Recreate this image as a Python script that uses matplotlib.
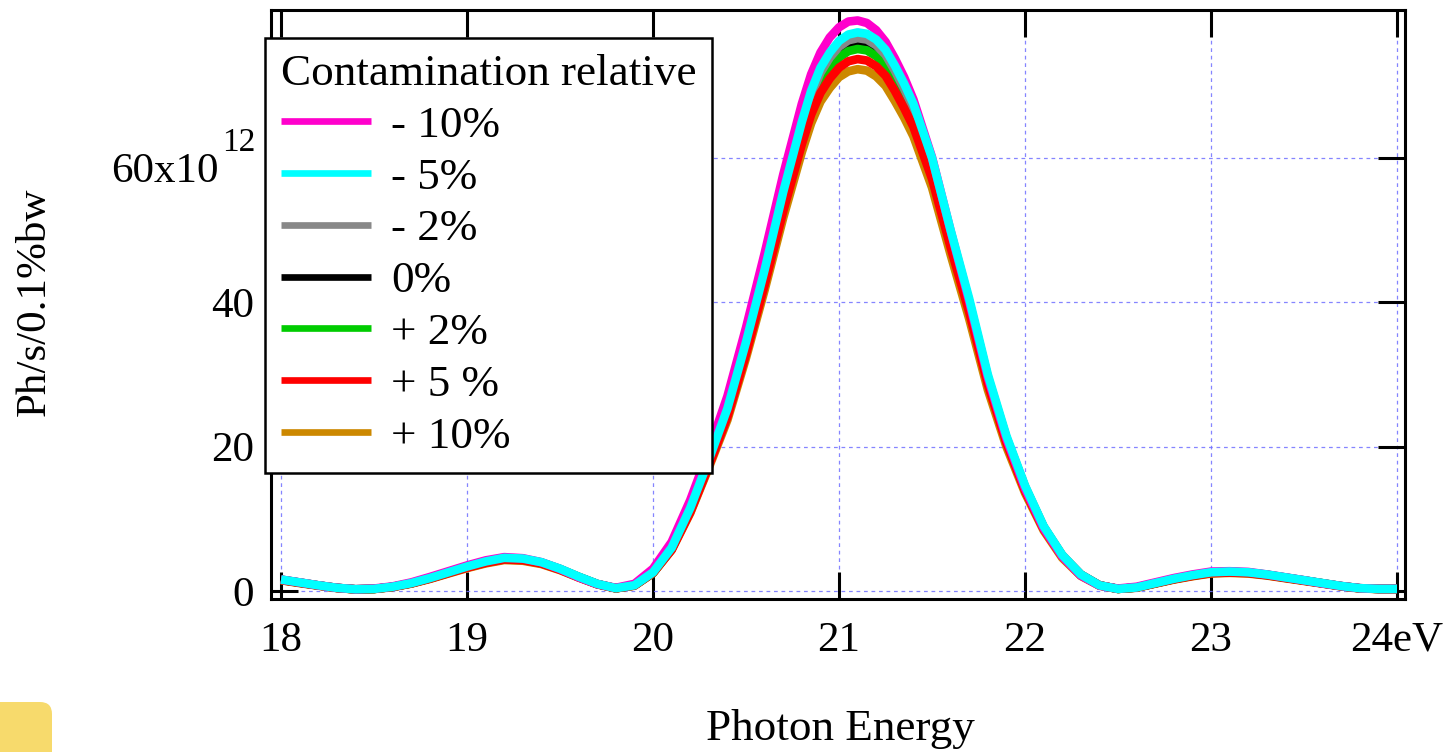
import matplotlib
matplotlib.use("Agg")
import matplotlib.pyplot as plt
from matplotlib.patches import FancyBboxPatch
from matplotlib.transforms import IdentityTransform, blended_transform_factory, offset_copy

plt.rcParams['font.family'] = ['Liberation Serif', 'DejaVu Serif']

# ---------------- data (Ph/s/0.1%bw, in units of 1e12) ----------------
energy = [18.0, 18.1, 18.2, 18.3, 18.4, 18.5, 18.6, 18.7, 18.8, 18.9,
          19.0, 19.1, 19.2, 19.3, 19.4, 19.5, 19.6, 19.7, 19.8, 19.9,
          20.0, 20.1, 20.2, 20.3, 20.4, 20.5, 20.6, 20.7, 20.8, 20.85,
          20.9, 20.95, 21.0, 21.05, 21.1, 21.15, 21.2, 21.25, 21.3, 21.35,
          21.4, 21.5, 21.6, 21.7, 21.8, 21.9, 22.0, 22.1, 22.2, 22.3,
          22.4, 22.5, 22.6, 22.7, 22.8, 22.9, 23.0, 23.1, 23.2, 23.3,
          23.4, 23.5, 23.6, 23.7, 23.8, 23.9, 24.0]

minus10 = [1.6, 1.2, 0.8, 0.45, 0.25, 0.35, 0.65, 1.2, 1.95, 2.75,
           3.55, 4.25, 4.7, 4.55, 4.0, 3.05, 1.9, 0.95, 0.45, 1.0,
           3.1, 6.8, 12.6, 19.5, 27.0, 36.5, 46.8, 57.7, 67.5, 71.6,
           74.6, 76.7, 78.1, 78.9, 79.05, 78.7, 77.7, 76.1, 73.8, 71.2,
           68.1, 60.1, 49.9, 40.1, 29.6, 21.1, 14.2, 8.7, 4.8, 2.15,
           0.75, 0.35, 0.6, 1.2, 1.8, 2.3, 2.7, 2.75, 2.65, 2.3,
           1.9, 1.5, 1.05, 0.7, 0.4, 0.3, 0.3]

minus5 = [1.6, 1.2, 0.8, 0.45, 0.25, 0.3, 0.6, 1.1, 1.8, 2.6,
          3.4, 4.1, 4.6, 4.5, 4.0, 3.1, 2.0, 1.0, 0.4, 0.8,
          2.6, 6.0, 11.5, 18.2, 25.3, 34.5, 44.5, 55.3, 65.0, 69.3,
          72.5, 74.6, 76.2, 77.1, 77.4, 77.2, 76.4, 75.0, 72.8, 70.3,
          67.5, 60.0, 50.0, 40.5, 30.0, 21.5, 14.6, 9.0, 5.0, 2.3,
          0.8, 0.3, 0.5, 1.1, 1.7, 2.2, 2.6, 2.7, 2.6, 2.3,
          1.9, 1.5, 1.1, 0.7, 0.4, 0.3, 0.3]

minus2 = [1.58, 1.19, 0.79, 0.45, 0.25, 0.3, 0.59, 1.09, 1.78, 2.57,
          3.37, 4.06, 4.55, 4.46, 3.96, 3.07, 1.98, 0.99, 0.4, 0.79,
          2.6, 5.9, 11.4, 18.0, 25.0, 34.2, 44.1, 54.7, 64.4, 68.6,
          71.8, 73.9, 75.4, 76.3, 76.6, 76.4, 75.6, 74.3, 72.1, 69.6,
          66.8, 59.4, 49.5, 40.1, 29.7, 21.3, 14.5, 8.9, 5.0, 2.3,
          0.8, 0.3, 0.5, 1.09, 1.68, 2.18, 2.57, 2.67, 2.57, 2.28,
          1.88, 1.49, 1.09, 0.69, 0.4, 0.3, 0.3]

zero = [1.57, 1.18, 0.79, 0.44, 0.25, 0.3, 0.59, 1.08, 1.77, 2.56,
        3.35, 4.03, 4.53, 4.43, 3.94, 3.05, 1.97, 0.98, 0.39, 0.79,
        2.6, 5.9, 11.3, 17.9, 24.9, 33.9, 43.8, 54.4, 64.0, 68.2,
        71.3, 73.4, 75.0, 75.9, 76.2, 76.0, 75.2, 73.8, 71.6, 69.2,
        66.4, 59.0, 49.2, 39.9, 29.5, 21.2, 14.4, 8.9, 4.9, 2.3,
        0.8, 0.3, 0.49, 1.08, 1.67, 2.16, 2.56, 2.66, 2.56, 2.26,
        1.87, 1.48, 1.08, 0.69, 0.39, 0.3, 0.3]

plus2 = [1.55, 1.16, 0.78, 0.44, 0.24, 0.29, 0.58, 1.07, 1.75, 2.52,
         3.3, 3.98, 4.46, 4.37, 3.88, 3.01, 1.94, 0.97, 0.39, 0.78,
         2.5, 5.8, 11.2, 17.7, 24.5, 33.5, 43.2, 53.6, 63.1, 67.2,
         70.3, 72.4, 73.9, 74.8, 75.1, 74.9, 74.1, 72.8, 70.6, 68.2,
         65.5, 58.2, 48.5, 39.3, 29.1, 20.9, 14.2, 8.7, 4.9, 2.2,
         0.8, 0.3, 0.49, 1.07, 1.65, 2.13, 2.52, 2.62, 2.52, 2.23,
         1.84, 1.46, 1.07, 0.68, 0.39, 0.29, 0.29]

plus5 = [1.52, 1.14, 0.76, 0.43, 0.24, 0.29, 0.57, 1.05, 1.71, 2.48,
         3.24, 3.9, 4.38, 4.28, 3.81, 2.95, 1.9, 0.95, 0.38, 0.76,
         2.5, 5.7, 10.9, 17.3, 24.1, 32.8, 42.4, 52.6, 61.9, 66.0,
         69.0, 71.0, 72.5, 73.4, 73.7, 73.5, 72.7, 71.4, 69.3, 66.9,
         64.3, 57.1, 47.6, 38.6, 28.6, 20.5, 13.9, 8.6, 4.8, 2.2,
         0.8, 0.3, 0.48, 1.05, 1.62, 2.09, 2.48, 2.57, 2.48, 2.19,
         1.81, 1.43, 1.05, 0.67, 0.38, 0.29, 0.29]

plus10 = [1.5, 1.1, 0.75, 0.42, 0.23, 0.28, 0.56, 1.03, 1.68, 2.43,
          3.18, 3.83, 4.3, 4.2, 3.74, 2.9, 1.87, 0.93, 0.37, 0.75,
          2.5, 5.7, 10.8, 17.1, 23.7, 32.3, 41.7, 51.7, 60.8, 64.8,
          67.8, 69.7, 71.2, 72.0, 72.3, 72.1, 71.3, 70.0, 67.9, 65.6,
          63.0, 55.9, 46.6, 37.7, 27.9, 20.0, 13.6, 8.4, 4.6, 2.1,
          0.75, 0.3, 0.47, 1.03, 1.59, 2.05, 2.43, 2.52, 2.43, 2.15,
          1.77, 1.4, 1.03, 0.65, 0.37, 0.28, 0.28]

labels = ['- 10%', '- 5%', '- 2%', '0%', '+ 2%', '+ 5 %', '+ 10%']
series = [minus10, minus5, minus2, zero, plus2, plus5, plus10]
colors = ['#ff00cc', '#00ffff', '#888888', '#000000', '#00cc00', '#ff0000', '#cc8800']
zorders = [6, 7, 4, 2, 3, 5, 1]

xticks = [18, 19, 20, 21, 22, 23, 24]
xticklabels = ['18', '19', '20', '21', '22', '23', '24eV']
yticks = [0, 20, 40, 60]
yticklabels = ['0', '20', '40', '']
top_label_main, top_label_exp = '60x10', '12'

# ---------------- figure ----------------
W, H = 1444, 752
fig = plt.figure(figsize=(W / 100, H / 100), dpi=100)
ax = fig.add_axes([271 / W, 1 - 599 / H, (1405 - 271) / W, (599 - 10) / H])

for y, c, lab, z in zip(series, colors, labels, zorders):
    ax.plot(energy, y, color=c, lw=6.2, label=lab, zorder=z + 2,
            solid_capstyle='butt', solid_joinstyle='round')

ax.set_xlim(17.946, 24.043)
ax.set_ylim(-1.1, 80.5)
ax.set_xticks(xticks)
ax.set_xticklabels(xticklabels)
ax.set_yticks(yticks)
ax.set_yticklabels(yticklabels)

ax.grid(True, color='#7070ff', lw=0.9, ls=(0, (3, 3)), alpha=0.85)
ax.set_axisbelow(True)

for s in ax.spines.values():
    s.set_linewidth(2.2)
ax.tick_params(axis='both', which='major', direction='in', length=19.5, width=2.2,
               top=True, right=True, labelsize=31)
ax.tick_params(axis='x', pad=16)
ax.tick_params(axis='y', pad=12)

# top y tick label "60x10^12"
bt = blended_transform_factory(ax.transAxes, ax.transData)
x_main = (219 - 271) / 1134
ax.text(x_main, yticks[3], top_label_main, ha='right', va='center', fontsize=31,
        transform=offset_copy(bt, fig=fig, x=0, y=-14, units='dots'), clip_on=False)
ax.text(x_main, yticks[3], top_label_exp, ha='left', va='center', fontsize=24,
        transform=offset_copy(bt, fig=fig, x=3, y=15, units='dots'), clip_on=False)

fig.text(840 / W, 1 - 729 / H, 'Photon Energy', ha='center', va='center', fontsize=32.5)
fig.text(35 / W, 1 - 302 / H, 'Ph/s/0.1%bw', ha='center', va='center',
         rotation=90, fontsize=31)

leg = ax.legend(loc='upper left', bbox_to_anchor=(-0.0053, 0.9525), borderaxespad=0,
                title='Contamination relative', fontsize=32.5, title_fontsize=32.5,
                frameon=True, fancybox=False, framealpha=1, edgecolor='black',
                handlelength=2.0, handletextpad=0.45, labelspacing=0.25,
                borderpad=0.35, alignment='left')
leg.get_frame().set_linewidth(1.8)
leg.set_zorder(20)
for hl in leg.get_lines():
    hl.set_linewidth(4.8)

# decorative yellow shape at bottom-left corner
blob = FancyBboxPatch((-30, -30), 82, 80, boxstyle='round,pad=0,rounding_size=12',
                      transform=IdentityTransform(), facecolor='#f7da6c',
                      edgecolor='none')
fig.patches.append(blob)

fig.savefig('out.png', dpi=100)
